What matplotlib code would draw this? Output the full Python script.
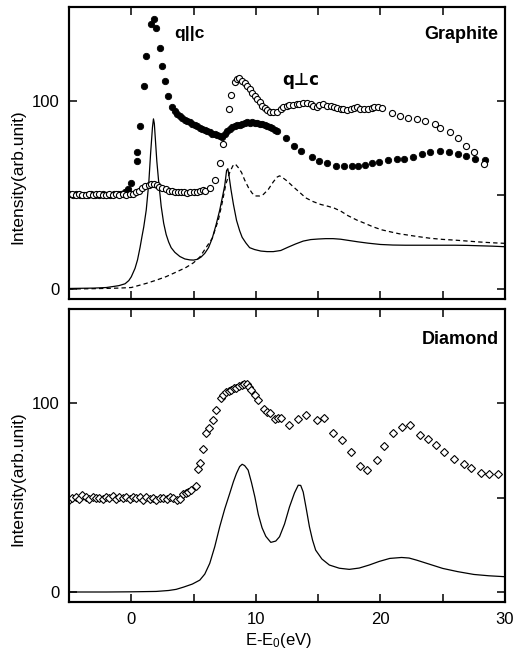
import matplotlib
matplotlib.use("Agg")
import matplotlib.pyplot as plt
from matplotlib.ticker import MultipleLocator, FixedLocator

plt.rcParams['font.family'] = ['Liberation Sans', 'DejaVu Sans']
plt.rcParams['mathtext.default'] = 'regular'

# ---------------- Graphite: q || c (filled circles) ----------------
par_E = [-5.0, -4.7, -4.4, -4.1, -3.8, -3.5, -3.2, -2.9, -2.6, -2.3, -2.0, -1.7, -1.4, -1.1,
         -0.8, -0.5, -0.27, 0.0, 0.43, 0.45, 0.73, 1.0, 1.18, 1.59, 1.8, 2.02, 2.27, 2.47,
         2.71, 2.97, 3.27, 3.5, 3.7, 3.9, 4.1, 4.3, 4.5, 4.7, 4.9, 5.1, 5.3, 5.5, 5.7, 5.9,
         6.1, 6.3, 6.5, 6.7, 6.9, 7.1, 7.3, 7.5, 7.7, 7.9, 8.1, 8.3, 8.5, 8.7, 8.9, 9.1,
         9.3, 9.5, 9.7, 9.9, 10.1, 10.3, 10.5, 10.7, 10.9, 11.1, 11.3, 11.5, 11.7, 12.4,
         13.1, 13.6, 14.5, 15.1, 15.7, 16.4, 17.1, 17.7, 18.2, 18.8, 19.3, 19.9, 20.6,
         21.3, 21.9, 22.6, 23.3, 24.0, 24.8, 25.5, 26.2, 26.9, 27.6, 28.4]
par_I = [50.3, 50.0, 50.4, 49.9, 50.2, 50.0, 50.3, 49.8, 50.1, 50.4, 50.0, 50.2, 50.5, 50.3,
         50.8, 51.5, 53.0, 56.5, 68.0, 73.0, 86.7, 108.0, 124.0, 140.8, 143.5, 138.7, 128.0,
         118.6, 110.7, 102.8, 97.0, 94.5, 93.0, 92.0, 91.0, 90.0, 89.3, 88.6, 87.9, 87.2,
         86.5, 85.8, 85.1, 84.5, 83.9, 83.3, 82.7, 82.2, 81.8, 81.3, 81.0, 82.5, 84.0, 85.0,
         86.0, 86.6, 87.0, 87.5, 87.8, 88.3, 88.8, 88.5, 88.7, 88.5, 88.3, 88.0, 87.6, 87.2,
         86.6, 86.0, 85.4, 84.8, 84.0, 80.5, 76.0, 73.5, 70.4, 68.0, 66.8, 65.6, 65.2, 65.2,
         65.4, 66.0, 66.8, 67.7, 68.4, 69.0, 69.4, 70.4, 72.0, 72.7, 73.6, 72.8, 71.8, 70.6,
         69.2, 68.5]

# ---------------- Graphite: q ⊥ c (open circles) ----------------
perp_E = [-5.0, -4.73, -4.46, -4.19, -3.92, -3.65, -3.38, -3.11, -2.84, -2.57, -2.3, -2.03,
          -1.76, -1.49, -1.22, -0.95, -0.68, -0.41, -0.14, 0.13, 0.4, 0.65, 0.9, 1.13, 1.4,
          1.6, 1.85, 2.05, 2.26, 2.5, 2.8, 3.0, 3.25, 3.5, 3.75, 4.0, 4.25, 4.5, 4.75, 5.0,
          5.25, 5.5, 5.75, 5.95, 6.3, 6.7, 7.1, 7.4, 7.82, 8.04, 8.3, 8.5, 8.65, 8.9, 9.1,
          9.25, 9.5, 9.7, 9.9, 10.1, 10.3, 10.5, 10.7, 10.9, 11.1, 11.4, 11.7, 12.0, 12.2,
          12.5, 12.7, 13.0, 13.3, 13.5, 13.8, 14.1, 14.4, 14.6, 14.9, 15.1, 15.4, 15.7, 16.0,
          16.3, 16.5, 16.8, 17.0, 17.3, 17.6, 17.9, 18.1, 18.4, 18.7, 19.0, 19.3, 19.5, 19.8,
          20.1, 20.9, 21.6, 22.2, 22.9, 23.6, 24.4, 24.8, 25.6, 26.2, 26.9, 27.5, 28.3]
perp_I = [50.3, 50.6, 50.1, 50.5, 49.8, 50.2, 50.4, 49.9, 50.3, 50.6, 50.0, 50.2, 50.5, 49.9,
          50.3, 50.1, 50.4, 50.2, 50.5, 50.8, 51.5, 52.3, 53.5, 54.8, 55.5, 55.8, 56.0, 55.2,
          54.4, 53.8, 53.0, 52.3, 52.0, 51.8, 51.5, 51.7, 51.5, 51.3, 51.6, 51.4, 51.8, 52.0,
          52.5, 52.0, 53.9, 58.2, 67.0, 77.0, 95.5, 103.0, 110.0, 111.5, 112.0, 110.8, 109.5,
          108.0, 106.5, 104.5, 102.7, 101.0, 99.6, 97.5, 96.1, 95.0, 94.3, 94.0, 94.3, 96.0,
          97.0, 97.5, 97.9, 98.0, 98.4, 98.2, 99.1, 98.8, 98.4, 97.5, 97.0, 97.8, 98.4, 97.5,
          97.3, 96.8, 96.1, 95.6, 95.6, 95.3, 95.5, 96.5, 97.0, 95.5, 95.5, 96.0, 96.5, 96.6,
          96.6, 96.1, 93.8, 92.0, 91.1, 90.3, 89.5, 87.6, 85.5, 83.7, 80.1, 76.1, 73.0, 66.5]

# ---------------- Graphite: calculated q || c (solid) ----------------
gpar_E = [-5, -3, -2, -1, -0.5, -0.2, 0, 0.3, 0.5, 0.7, 0.86, 1.0, 1.2, 1.4, 1.55, 1.7, 1.78,
          1.85, 1.95, 2.05, 2.2, 2.4, 2.6, 2.8, 3.0, 3.2, 3.5, 3.9, 4.3, 4.7, 5.0, 5.3, 5.6,
          5.9, 6.2, 6.5, 6.8, 7.1, 7.35, 7.5, 7.65, 7.75, 7.85, 8.0, 8.2, 8.45, 8.7, 8.9, 9.2,
          9.5, 9.9, 10.4, 10.9, 11.4, 12.0, 12.6, 13.2, 13.8, 14.4, 15.0, 15.6, 16.2, 16.8,
          17.5, 18.2, 19, 20, 21, 22, 23, 24, 25, 26, 27, 28, 29, 30]
gpar_I = [0.3, 0.5, 0.8, 1.8, 2.8, 4.5, 6.5, 11, 15.5, 22, 28, 33, 42, 56, 72, 86, 90.5, 88,
          78, 68, 57, 44, 35, 29, 25, 22, 19.5, 17.3, 16, 15.5, 15.4, 15.8, 17, 19, 22, 27,
          34, 42, 50, 55, 63, 64, 60, 53, 45, 36.5, 31, 27.5, 24.5, 22, 21, 20.2, 19.9, 19.9,
          20.5, 22.3, 24, 25.5, 26.3, 26.6, 26.8, 26.8, 26.5, 25.8, 25.1, 24.4, 23.7, 23.4,
          23.3, 23.3, 23.3, 23.3, 23.3, 23.2, 23.0, 22.8, 22.5]

# ---------------- Graphite: calculated q ⊥ c (dashed) ----------------
gperp_E = [-5, -3, -1, 0, 1.2, 2, 2.8, 3.6, 4.4, 5.0, 5.5, 6.0, 6.5, 7.0, 7.3, 7.6, 7.9, 8.15,
           8.35, 8.6, 8.85, 9.1, 9.4, 9.7, 9.95, 10.3, 10.6, 11.0, 11.4, 11.7, 11.9, 12.1,
           12.5, 13.0, 13.5, 14.0, 14.6, 15.2, 15.8, 16.3, 16.8, 17.4, 18.1, 18.8, 19.4, 20.1,
           20.75, 21.5, 22.2, 23, 24, 25, 26, 27, 28, 29, 30]
gperp_I = [0, 0.2, 0.5, 0.8, 3, 4.7, 6.6, 9, 11.5, 14, 17, 22, 27, 37, 46, 56, 62, 65.5, 66.5,
           64.5, 62, 58, 54, 51, 49.5, 49.5, 50.3, 53, 57, 59.5, 60.2, 59.5, 57.5, 54.4, 51.5,
           48.5, 46.5, 45, 44, 43, 41.5, 39, 36.7, 34.8, 33.1, 31.5, 30.5, 29.4, 28.7, 27.9,
           27, 26.4, 26, 25.5, 25, 24.6, 24.3]

# ---------------- Diamond: experiment (open diamonds) ----------------
dia_E = [-5.0, -4.73, -4.46, -4.19, -3.92, -3.65, -3.38, -3.11, -2.84, -2.57, -2.3, -2.03,
         -1.76, -1.49, -1.22, -0.95, -0.68, -0.41, -0.14, 0.13, 0.4, 0.67, 0.94, 1.21, 1.48,
         1.75, 2.02, 2.29, 2.56, 2.83, 3.1, 3.37, 3.64, 3.9, 4.19, 4.4, 4.54, 4.81, 5.16, 5.35,
         5.48, 5.75, 6.02, 6.24, 6.56, 6.83, 7.23, 7.4, 7.64, 7.85, 8.04, 8.25, 8.44, 8.65,
         8.85, 9.05, 9.25, 9.45, 9.65, 9.92, 10.2, 10.67, 10.9, 11.1, 11.5, 11.75, 12.0, 12.7,
         13.4, 14.0, 14.9, 15.5, 16.2, 16.9, 17.6, 18.4, 18.9, 19.7, 20.3, 21.0, 21.7, 22.4,
         23.2, 23.8, 24.5, 25.1, 25.9, 26.7, 27.3, 28.1, 28.7, 29.4]
dia_I = [49.0, 49.8, 50.2, 49.5, 51.5, 50.3, 49.2, 50.6, 49.8, 50.0, 49.1, 50.4, 49.6, 50.9,
         49.3, 50.2, 49.7, 50.5, 49.4, 50.1, 49.6, 50.3, 48.9, 50.2, 49.5, 50.0, 48.8, 49.6,
         49.9, 49.2, 50.1, 49.8, 49.0, 49.5, 52.2, 52.5, 53.0, 54.0, 56.3, 65.4, 68.4, 76.0,
         84.3, 87.1, 91.4, 96.3, 103.0, 104.5, 106.0, 106.5, 107.0, 108.0, 108.3, 109.0,
         109.5, 110.3, 110.0, 108.5, 107.2, 104.2, 102.0, 96.8, 95.4, 95.0, 91.9, 92.4, 92.0,
         88.4, 91.9, 93.6, 91.4, 92.2, 84.5, 80.4, 74.2, 66.8, 64.6, 69.8, 77.4, 84.3, 87.5,
         88.7, 83.4, 81.3, 77.8, 74.2, 70.7, 67.6, 65.8, 63.3, 62.8, 62.3]

# ---------------- Diamond: calculated (solid) ----------------
dcal_E = [-5, -2, 0, 2, 3, 3.6, 4.2, 4.9, 5.5, 5.9, 6.3, 6.7, 7.1, 7.5, 7.9, 8.2, 8.44, 8.7,
          8.9, 9.1, 9.38, 9.65, 9.92, 10.2, 10.5, 10.8, 11.2, 11.6, 11.9, 12.3, 12.7, 13.1,
          13.4, 13.6, 13.8, 14.05, 14.3, 14.55, 14.8, 15.3, 15.9, 16.7, 17.5, 18.3, 19.1, 19.9,
          20.75, 21.7, 22.3, 22.9, 24, 25, 26.2, 27.5, 28.7, 30]
dcal_I = [0, 0, 0.1, 0.3, 0.8, 1.4, 2.6, 4.2, 6.3, 9.5, 15.2, 24, 34.6, 44, 52.2, 58.5, 62.8,
          66.5, 67.7, 67, 64.6, 58, 50.4, 41, 34, 29.5, 26.3, 27, 29.3, 36, 45.1, 52.5, 56.6,
          56.5, 53, 44, 34.6, 27.5, 22.2, 17.5, 14.3, 12.6, 12, 12.7, 14.3, 16.2, 17.8, 18.3,
          18, 16.9, 14.6, 12.5, 10.8, 9.3, 8.6, 8.1]

x_ticks = [0, 10, 20, 30]
y_ticks_left = [0, 100]
y_ticks_right = [0, 50, 100]

fig = plt.figure(figsize=(5.16, 6.6), dpi=100)
ax1 = fig.add_axes([69/516, 1-299/660, 436/516, 292/660])
ax2 = fig.add_axes([69/516, 1-602/660, 436/516, 293/660])

ax1.plot(gperp_E, gperp_I, color='black', lw=0.9, ls=(0, (3.5, 2.5)))
ax1.plot(gpar_E, gpar_I, color='black', lw=0.9)
ax1.plot(par_E, par_I, ls='none', marker='o', ms=4.6, mfc='black', mec='black', mew=0.6)
ax1.plot(perp_E, perp_I, ls='none', marker='o', ms=4.4, mfc='white', mec='black', mew=0.8)

ax2.plot(dcal_E, dcal_I, color='black', lw=0.9)
ax2.plot(dia_E, dia_I, ls='none', marker='D', ms=4.0, mfc='white', mec='black', mew=0.8)

for ax in (ax1, ax2):
    ax.set_xlim(-5, 30)
    ax.set_ylim(-5.3, 150)
    ax.xaxis.set_major_locator(FixedLocator(x_ticks))
    ax.xaxis.set_minor_locator(MultipleLocator(5))
    ax.yaxis.set_major_locator(FixedLocator(y_ticks_left))
    ax.tick_params(axis='x', which='both', direction='in', top=True, bottom=True,
                   length=6, width=1.1, labelsize=12, pad=7)
    ax.tick_params(axis='y', which='both', direction='in', left=True, right=False,
                   length=6, width=1.1, labelsize=12, pad=7)
    for s in ax.spines.values():
        s.set_linewidth(1.5)
    tw = ax.twinx()
    tw.set_ylim(-5.3, 150)
    tw.yaxis.set_major_locator(FixedLocator(y_ticks_right))
    tw.tick_params(axis='y', direction='in', length=6, width=1.1, labelright=False)
    for s in tw.spines.values():
        s.set_linewidth(1.5)

ax1.tick_params(axis='x', labelbottom=False)

ax1.text(0.985, 0.905, 'Graphite', transform=ax1.transAxes, ha='right', va='center',
         fontsize=13, fontweight='bold')
ax1.text(3.45, 136, 'q||c', ha='left', va='center', fontsize=12.5, fontweight='bold')
ax1.text(12.1, 111, 'q\u22a5c', ha='left', va='center', fontsize=12, fontweight='bold',
         family=['DejaVu Sans'])
ax2.text(0.985, 0.895, 'Diamond', transform=ax2.transAxes, ha='right', va='center',
         fontsize=13, fontweight='bold')

fig.text(18/516, 1-177/660, 'Intensity(arb.unit)', rotation=90, ha='center', va='center',
         fontsize=12.5)
fig.text(18/516, 1-479/660, 'Intensity(arb.unit)', rotation=90, ha='center', va='center',
         fontsize=12.5)
fig.text(279/516, 1-640/660, 'E-E$_0$(eV)', ha='center', va='center', fontsize=12)

fig.savefig('out.png', dpi=100)
